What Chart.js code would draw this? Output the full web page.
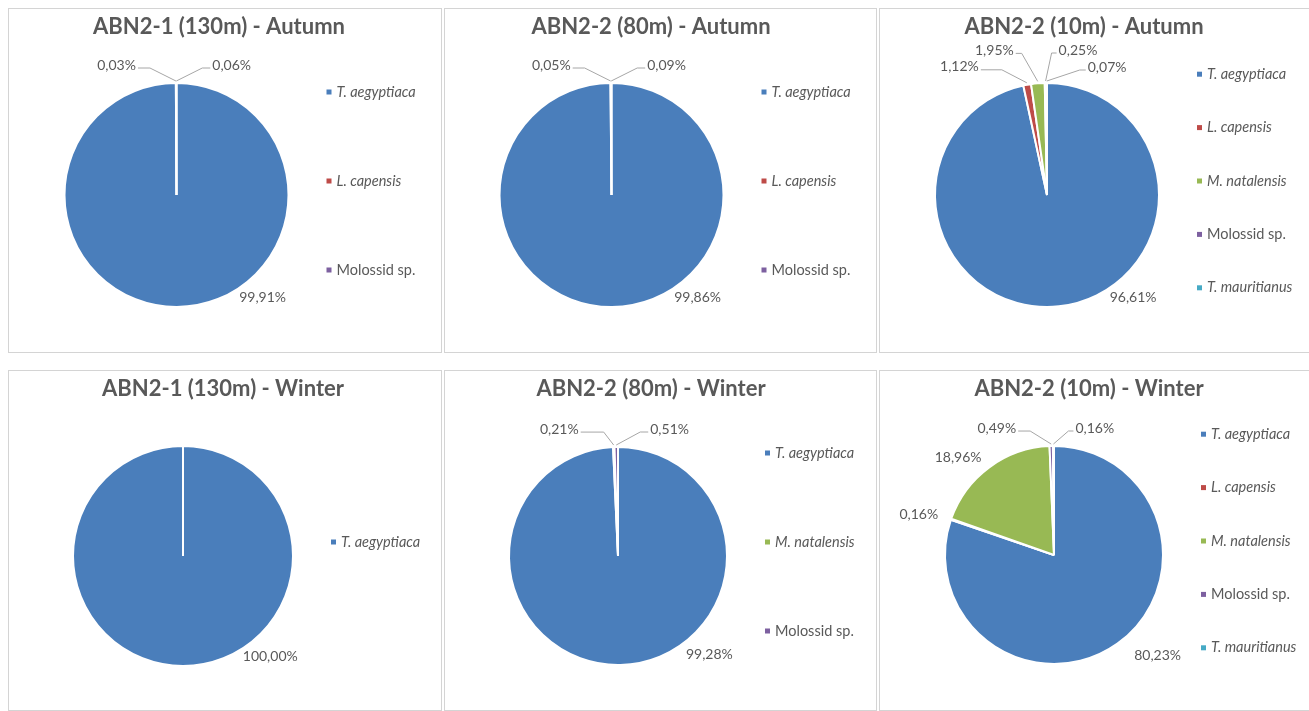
<!DOCTYPE html>
<html>
<head>
<meta charset="utf-8">
<script src="https://cdn.jsdelivr.net/npm/chart.js@4.4.0/dist/chart.umd.min.js"></script>
<style>
body{margin:0;background:#fff;width:1309px;height:711px;overflow:hidden;position:relative;font-family:Lato}
.panel{position:absolute;border:1px solid #d4d4d4;box-sizing:border-box;background:#fff;overflow:hidden}
.panel canvas{position:absolute;left:0;top:0}
</style>
</head>
<body>
<div class="panel" style="left:8px;top:8px;width:434px;height:345px"><canvas id="c1" width="432" height="343"></canvas></div>
<div class="panel" style="left:444px;top:8px;width:433px;height:345px"><canvas id="c2" width="431" height="343"></canvas></div>
<div class="panel" style="left:879px;top:8px;width:440px;height:345px"><canvas id="c3" width="438" height="343"></canvas></div>
<div class="panel" style="left:8px;top:370px;width:434px;height:341px"><canvas id="c4" width="432" height="339"></canvas></div>
<div class="panel" style="left:444px;top:370px;width:433px;height:341px"><canvas id="c5" width="431" height="339"></canvas></div>
<div class="panel" style="left:879px;top:370px;width:440px;height:341px"><canvas id="c6" width="438" height="339"></canvas></div>
<script>
// species colours (Office palette)
const speciesColors = {
  'T. aegyptiaca': '#4a7ebb',
  'L. capensis': '#be4b48',
  'M. natalensis': '#98b954',
  'Molossid sp.': '#7d60a0',
  'T. mauritianus': '#46aac5'
};

// ABN2-1 (130m) - Autumn
const a1Labels = ['T. aegyptiaca', 'L. capensis', 'Molossid sp.'];
const a1Values = [99.91, 0.03, 0.06];
// ABN2-2 (80m) - Autumn
const a2Labels = ['T. aegyptiaca', 'L. capensis', 'Molossid sp.'];
const a2Values = [99.86, 0.05, 0.09];
// ABN2-2 (10m) - Autumn
const a3Labels = ['T. aegyptiaca', 'L. capensis', 'M. natalensis', 'Molossid sp.', 'T. mauritianus'];
const a3Values = [96.61, 1.12, 1.95, 0.25, 0.07];
// ABN2-1 (130m) - Winter
const w1Labels = ['T. aegyptiaca'];
const w1Values = [100.00];
// ABN2-2 (80m) - Winter
const w2Labels = ['T. aegyptiaca', 'M. natalensis', 'Molossid sp.'];
const w2Values = [99.28, 0.21, 0.51];
// ABN2-2 (10m) - Winter
const w3Labels = ['T. aegyptiaca', 'L. capensis', 'M. natalensis', 'Molossid sp.', 'T. mauritianus'];
const w3Values = [80.23, 0.16, 18.96, 0.49, 0.16];

// draws title, legend and the excel-like data labels
const excelPie = {
  id: 'excelPie',
  afterDraw(chart, args, opts) {
    const ctx = chart.ctx;
    const arcs = chart.getDatasetMeta(0).data;
    const ds = chart.data.datasets[0];
    const cx = arcs[0].x, cy = arcs[0].y, r = arcs[0].outerRadius;
    ctx.save();
    ctx.fillStyle = '#595959';
    ctx.font = 'bold 22px Lato';
    ctx.textAlign = 'center';
    ctx.textBaseline = 'middle';
    ctx.fillText(opts.title, opts.titleX, opts.titleY);

    // legend
    const n = chart.data.labels.length;
    const step = 267 / n;
    chart.data.labels.forEach((lab, i) => {
      const y = cy - 14 + (i - (n - 1) / 2) * step;
      ctx.fillStyle = ds.backgroundColor[i];
      ctx.fillRect(cx + r + 38, y - 2.5, 5, 5);
      ctx.fillStyle = '#595959';
      ctx.font = (lab.startsWith('Molossid') ? '' : 'italic ') + '14.5px Lato';
      ctx.textAlign = 'left';
      ctx.fillText(lab, cx + r + 48, y);
    });

    // data labels
    ctx.font = '14px Lato';
    ctx.strokeStyle = '#a6a6a6';
    ctx.lineWidth = 1;
    arcs.forEach((arc, i) => {
      const spec = opts.labels[i];
      const txt = ds.data[i].toFixed(2).replace('.', ',') + '%';
      ctx.fillStyle = '#595959';
      if (spec.dx === undefined) {
        const th = spec.a === undefined ? (arc.startAngle + arc.endAngle) / 2 : spec.a * Math.PI / 180 - Math.PI / 2;
        ctx.textAlign = 'center';
        ctx.fillText(txt, cx + (r + spec.d) * Math.cos(th), cy + (r + spec.d) * Math.sin(th));
      } else {
        const mid = (arc.startAngle + arc.endAngle) / 2;
        const ax = cx + (r + 2) * Math.cos(mid), ay = cy + (r + 2) * Math.sin(mid);
        const ex = ax + spec.dx, ey = ay - spec.dy;
        const side = spec.dx < 0 ? -1 : 1;
        const hx = ex + side * spec.h;
        ctx.beginPath();
        ctx.moveTo(ax, ay);
        ctx.lineTo(ex, ey);
        ctx.lineTo(hx, ey);
        ctx.stroke();
        ctx.textAlign = side < 0 ? 'right' : 'left';
        ctx.fillText(txt, hx + side * 2, ey - 3);
      }
    });
    ctx.restore();
  }
};

function makePie(id, title, labels, values, layout) {
  const canvas = document.getElementById(id);
  const W = canvas.width, H = canvas.height;
  new Chart(canvas, {
    type: 'pie',
    data: {
      labels: labels,
      datasets: [{
        data: values,
        backgroundColor: labels.map(l => speciesColors[l]),
        borderColor: '#ffffff',
        borderWidth: 2,
        hoverOffset: 0
      }]
    },
    options: {
      responsive: false,
      animation: false,
      radius: layout.r,
      layout: { padding: { left: 0, right: W - 2 * layout.cx, top: 2 * layout.cy - H, bottom: 0 } },
      plugins: {
        legend: { display: false },
        tooltip: { enabled: false },
        excelPie: { title: title, titleX: layout.titleX, titleY: 18, labels: layout.labels }
      }
    },
    plugins: [excelPie]
  });
}

makePie('c1', 'ABN2-1 (130m) - Autumn', a1Labels, a1Values, {
  cx: 167.5, cy: 186, r: 112, titleX: 210,
  labels: [{ a: 140, d: 22 }, { dx: -26, dy: 13, h: 12 }, { dx: 26, dy: 13, h: 8 }]
});
makePie('c2', 'ABN2-2 (80m) - Autumn', a2Labels, a2Values, {
  cx: 166.5, cy: 186, r: 112, titleX: 206,
  labels: [{ a: 140, d: 22 }, { dx: -26, dy: 13, h: 12 }, { dx: 26, dy: 13, h: 8 }]
});
makePie('c3', 'ABN2-2 (10m) - Autumn', a3Labels, a3Values, {
  cx: 167, cy: 186, r: 112, titleX: 204,
  labels: [{ a: 140, d: 22 }, { dx: -25, dy: 13, h: 21 }, { dx: -16, dy: 28, h: 6 },
           { dx: 6, dy: 28, h: 5 }, { dx: 33, dy: 11, h: 6 }]
});
makePie('c4', 'ABN2-1 (130m) - Winter', w1Labels, w1Values, {
  cx: 174, cy: 185, r: 110, titleX: 214,
  labels: [{ a: 139, d: 23 }]
});
makePie('c5', 'ABN2-2 (80m) - Winter', w2Labels, w2Values, {
  cx: 173, cy: 185, r: 109, titleX: 206,
  labels: [{ a: 137, d: 25 }, { dx: -10, dy: 13, h: 23 }, { dx: 24, dy: 13, h: 8 }]
});
makePie('c6', 'ABN2-2 (10m) - Winter', w3Labels, w3Values, {
  cx: 174, cy: 184, r: 109, titleX: 209,
  labels: [{ a: 134, d: 35 }, { a: 286.5, d: 32 }, { a: 315.6, d: 28 },
           { dx: -21, dy: 13, h: 12 }, { dx: 15, dy: 13, h: 5 }]
});
</script>
</body>
</html>
